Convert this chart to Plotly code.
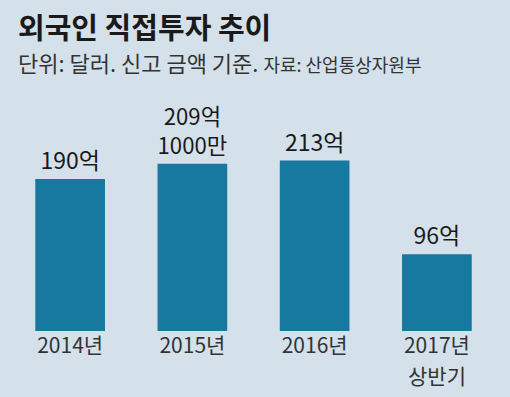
import plotly.graph_objects as go

categories = ["2014년", "2015년", "2016년", "2017년"]
category_sub = ["", "", "", "상반기"]
values = [190, 209.1, 213, 96]
value_labels = ["190억", "209억<br>1000만", "213억", "96억"]

FONT = "Noto Sans CJK KR"
BG = "#d5e1ea"
BAR = "#17799f"

W, H = 510, 397
ml, mr, mt, mb = 9, 12, 100, 66
plot_h = H - mt - mb
ymax = plot_h / 0.8

xs = list(range(len(categories)))

fig = go.Figure()
fig.add_trace(go.Bar(
    x=xs, y=values, width=0.57,
    marker=dict(color=BAR, line=dict(width=0)),
    text=value_labels, textposition="outside",
    textfont=dict(family=FONT, size=23, color="#1a1a1a"),
    cliponaxis=False, hoverinfo="skip",
))

def py(pix_y):
    return (H - mb - pix_y) / plot_h

def px(pix_x):
    return (pix_x - ml) / (W - ml - mr)

fig.add_annotation(x=px(16), y=py(26), xref="paper", yref="paper",
                   xanchor="left", yanchor="middle", showarrow=False,
                   text="<b>외국인 직접투자 추이</b>",
                   font=dict(family=FONT, size=29, color="#1a1a1a"))
fig.add_annotation(x=px(16), y=py(62), xref="paper", yref="paper",
                   xanchor="left", yanchor="middle", showarrow=False,
                   text="단위: 달러. 신고 금액 기준. <span style='font-size:18px'>자료: 산업통상자원부</span>",
                   font=dict(family=FONT, size=22, color="#333333"))

for x, sub in zip(xs, category_sub):
    if sub:
        fig.add_annotation(x=x, y=py(375), xref="x", yref="paper",
                           xanchor="center", yanchor="middle", showarrow=False,
                           text=sub,
                           font=dict(family=FONT, size=21, color="#333333"))

fig.update_layout(
    width=W, height=H,
    margin=dict(l=ml, r=mr, t=mt, b=mb),
    paper_bgcolor=BG, plot_bgcolor=BG,
    showlegend=False,
    xaxis=dict(range=[-0.5, 3.5], tickvals=xs, ticktext=categories,
               showgrid=False, zeroline=False, showline=False, ticks="",
               tickfont=dict(family=FONT, size=21, color="#333333"),
               fixedrange=True),
    yaxis=dict(range=[0, ymax], visible=False, fixedrange=True),
    bargap=0.43,
)

fig.write_html("out.html", config={"displayModeBar": False},
               post_script="document.body.style.margin='0';")
